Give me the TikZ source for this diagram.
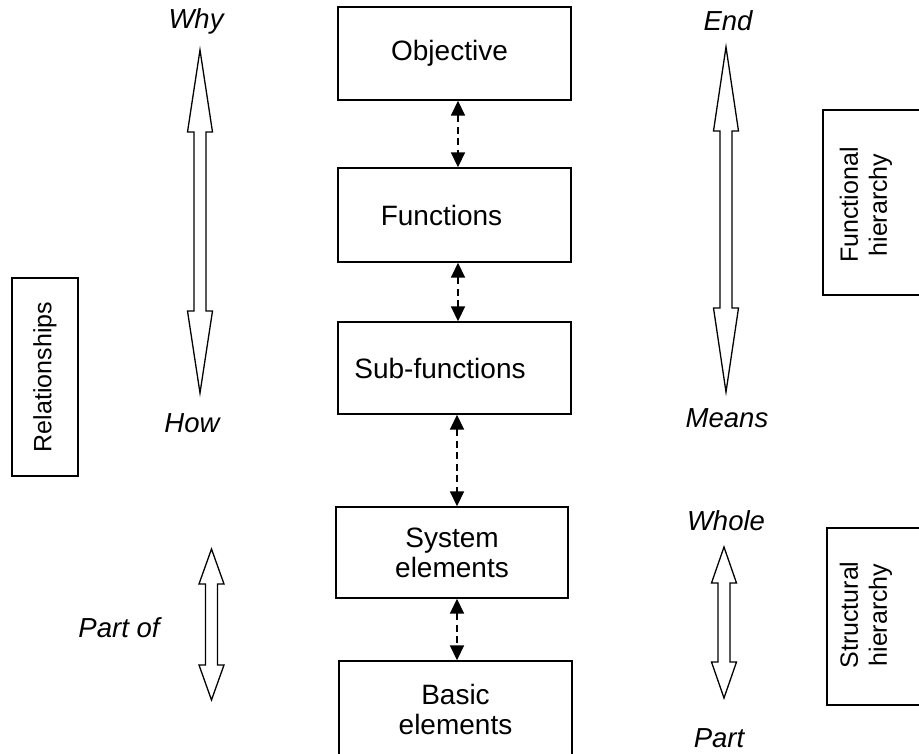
\documentclass[tikz,border=0pt]{standalone}
\usepackage{fontspec}
\setmainfont{Liberation Sans}
\usetikzlibrary{arrows.meta}

% hollow double-headed block arrow: centre x, top tip y, bottom tip y, head length
\newcommand\hollowdbl[4]{%
  \draw[hollow] (#1,#2) -- ({#1+12.5},{#2+#4}) -- ({#1+6},{#2+#4})
    -- ({#1+6},{#3-#4}) -- ({#1+12.5},{#3-#4}) -- (#1,#3)
    -- ({#1-12.5},{#3-#4}) -- ({#1-6},{#3-#4}) -- ({#1-6},{#2+#4})
    -- ({#1-12.5},{#2+#4}) -- cycle;}

\begin{document}
\begin{tikzpicture}[x=1pt,y=-1pt,
  box/.style={draw, line width=1.4pt, inner sep=0pt, align=center,
    font=\fontsize{28}{30}\selectfont},
  tag/.style={font=\fontsize{27.5}{30}\selectfont\itshape, inner sep=0pt, anchor=base},
  sidebox/.style={draw, line width=1.4pt, rotate=90, inner sep=0pt},
  sidefont/.style={font=\fontsize{25}{29}\selectfont},
  sidetext/.style={sidefont, rotate=90, align=center, inner sep=0pt},
  link/.style={line width=1.7pt, dash pattern=on 7pt off 4.5pt,
    {Triangle[width=14pt,length=15pt]}-{Triangle[width=14pt,length=15pt]}},
  hollow/.style={draw, fill=white, line width=1.3pt, line join=miter}
]
\useasboundingbox (0,0) rectangle (919,753);

% central hierarchy
\node[box, minimum width=233, minimum height=93] (obj) at (454.5,53.5) {\hspace*{-10pt}\raisebox{-3pt}{Objective}};
\node[box, minimum width=233, minimum height=94] (fun) at (454.5,215) {\hspace*{-26pt}Functions};
\node[box, minimum width=233, minimum height=92] (sub) at (454.5,368) {\hspace*{-29pt}Sub-functions};
\node[box, minimum width=232, minimum height=91] (sys) at (452,552.5) {System\\elements};
\node[box, minimum width=233, minimum height=100] (bas) at (455.5,711) {\raisebox{4pt}{Basic}\\\raisebox{4pt}{elements}};

\draw[link] ([xshift=3.5pt]obj.south) -- ([xshift=3.5pt]fun.north);
\draw[link] ([xshift=3.5pt]fun.south) -- ([xshift=3.5pt]sub.north);
\draw[link] ([xshift=2.5pt]sub.south) -- ([xshift=5pt]sys.north);
\draw[link] ([xshift=5pt]sys.south) -- ([xshift=1.5pt]bas.north);

% block arrows
\hollowdbl{200}{50}{393}{82}
\hollowdbl{726}{47}{392}{84}
\hollowdbl{211.5}{549}{700}{35}
\hollowdbl{724}{547}{698}{36}

% arrow labels
\node[tag] (why) at (196,28) {Why};
\node[tag] (how) at (192,432) {How};
\node[tag] (end) at (728,30) {End};
\node[tag] (means) at (727,427) {Means};
\node[tag] (whole) at (726,530) {Whole};
\node[tag] (part) at (719,747) {Part};
\node[tag] (partof) at (119,637) {Part of};

% side boxes
\node[sidebox, sidefont, minimum width=198, minimum height=66] (rel) at (45,377) {Relationships};
\node[sidebox, minimum width=185, minimum height=110] (fbox) at (878,202.5) {};
\node[sidetext] (ftext) at (866,205) {Functional\\hierarchy};
\node[sidebox, minimum width=177, minimum height=110] (sbox) at (882,616.5) {};
\node[sidetext] (stext) at (866,615) {Structural\\hierarchy};
\end{tikzpicture}
\end{document}
